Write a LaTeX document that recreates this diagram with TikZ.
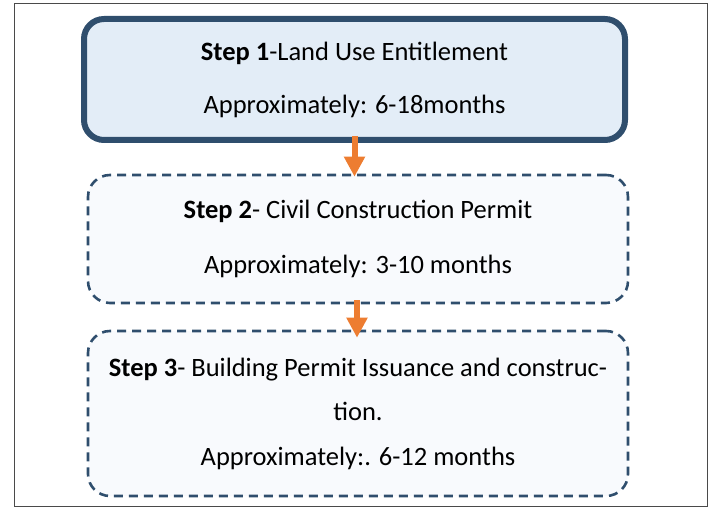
\documentclass[tikz,border=0pt]{standalone}
\usepackage{fontspec}
\setmainfont{Carlito}
\usetikzlibrary{arrows.meta}
\definecolor{edgeblue}{HTML}{2F4E6D}
\definecolor{fillone}{HTML}{E3EDF7}
\definecolor{filltwo}{HTML}{F8FAFD}
\definecolor{arrorange}{HTML}{ED7D31}
\definecolor{framegray}{HTML}{4A4A4A}
\tikzset{
  boxone/.style={draw=edgeblue, fill=fillone, line width=6pt, rounded corners=20pt,
    align=center, font=\fontsize{26.5}{30}\selectfont, inner sep=0pt},
  boxdash/.style={draw=edgeblue, fill=filltwo, line width=2.6pt, rounded corners=22pt,
    dash pattern=on 9pt off 6pt, align=center, font=\fontsize{26.5}{30}\selectfont, inner sep=0pt},
  flowarrow/.style={draw=arrorange, line width=6pt, -{Triangle[width=20pt,length=20pt]}},
  frameline/.style={draw=framegray, line width=1pt}
}
\begin{document}
\begin{tikzpicture}[x=1pt,y=-1pt]
\useasboundingbox (0,0) rectangle (712,508);
\draw[frameline] (14,4) rectangle (707,506);
\node[boxone, minimum width=541pt, minimum height=121pt] (s1) at (354.5,79.5)
  {\textbf{Step 1}-Land Use Entitlement\\[23pt]Approximately: 6-18months};
\node[boxdash, minimum width=540pt, minimum height=128pt] (s2) at (358,239)
  {\textbf{Step 2}- Civil Construction Permit\\[25pt]Approximately: 3-10 months};
\node[boxdash, minimum width=540pt, minimum height=165pt] (s3) at (358,413.5)
  {\textbf{Step 3}- Building Permit Issuance and construc-\\[14pt]tion.\\[15pt]Approximately:. 6-12 months};
\draw[flowarrow, shorten <=-7pt, shorten >=-3pt] (s1.south) -- (s1.south |- s2.north);
\draw[flowarrow, shorten <=-4pt, shorten >=-8pt] ([xshift=-1pt]s2.south) -- ([xshift=-1pt]s2.south |- s3.north);
\end{tikzpicture}
\end{document}
